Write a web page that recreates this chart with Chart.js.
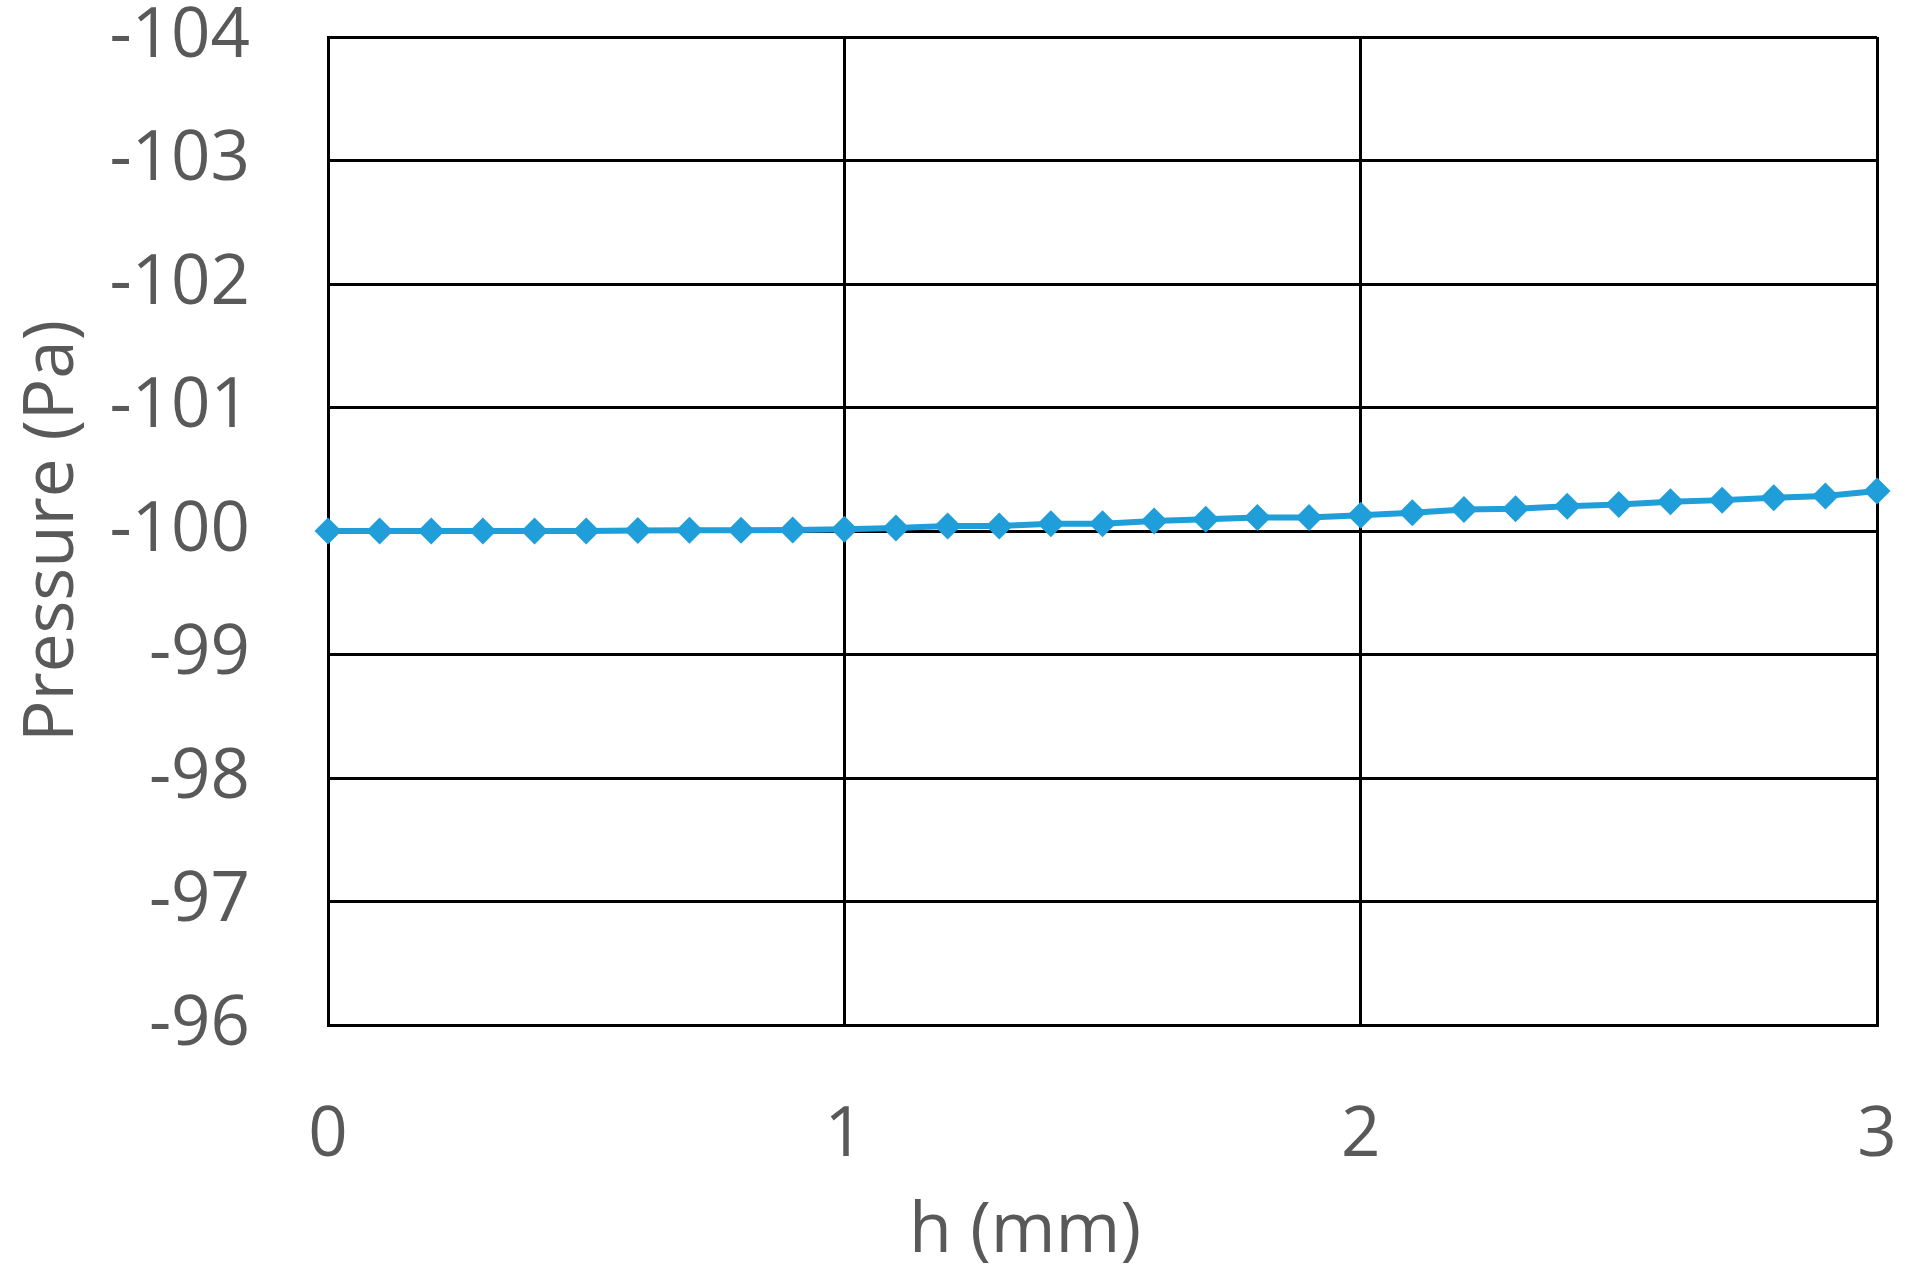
<!DOCTYPE html>
<html>
<head>
<meta charset="utf-8">
<script src="https://cdn.jsdelivr.net/npm/chart.js@4"></script>
<style>
html,body{margin:0;padding:0;background:#fff;}
#wrap{width:1909px;height:1269px;}
</style>
</head>
<body>
<div id="wrap"><canvas id="c" width="1909" height="1269"></canvas></div>
<script>
const hValues = [0,0.1,0.2,0.3,0.4,0.5,0.6,0.7,0.8,0.9,1.0,1.1,1.2,1.3,1.4,1.5,1.6,1.7,1.8,1.9,2.0,2.1,2.2,2.3,2.4,2.5,2.6,2.7,2.8,2.9,3.0];
const pressure = [-100.00,-100.00,-100.00,-100.00,-100.00,-100.00,-100.005,-100.007,-100.007,-100.008,-100.015,-100.025,-100.04,-100.04,-100.058,-100.058,-100.08,-100.095,-100.11,-100.11,-100.127,-100.148,-100.175,-100.18,-100.2,-100.215,-100.237,-100.25,-100.27,-100.284,-100.324];
const xTitle = 'h (mm)';
const yTitle = 'Pressure (Pa)';

const FONT = "'Open Sans', 'Noto Sans', sans-serif";
const TXT = '#595959';

const xTitlePlugin = {
  id: 'xTitlePlugin',
  afterDraw(chart) {
    const ctx = chart.ctx, a = chart.chartArea;
    ctx.save();
    ctx.font = "70px " + FONT;
    ctx.fillStyle = TXT;
    ctx.textAlign = 'center';
    ctx.textBaseline = 'middle';
    ctx.fillText(xTitle, a.left + (a.right - a.left) * 0.45, 1232);
    ctx.restore();
  }
};

new Chart(document.getElementById('c'), {
  type: 'line',
  data: {
    datasets: [{
      data: hValues.map((h, i) => ({x: h, y: pressure[i]})),
      borderColor: '#1F9EDA',
      backgroundColor: '#1F9EDA',
      borderWidth: 6,
      pointStyle: 'rectRot',
      pointRadius: 13.5,
      pointBorderWidth: 0,
      fill: false,
      tension: 0,
      clip: false
    }]
  },
  options: {
    responsive: false,
    animation: false,
    layout: {autoPadding: false, padding: {top: 37, right: 32, left: 0, bottom: 0}},
    plugins: {legend: {display: false}, tooltip: {enabled: false}},
    scales: {
      x: {
        type: 'linear', min: 0, max: 3,
        ticks: {stepSize: 1, color: TXT, font: {family: FONT, size: 69}, padding: 70, maxRotation: 0},
        grid: {color: '#000', lineWidth: 3, drawTicks: false},
        border: {color: '#000', width: 3},
        afterFit(s) { s.height = 244; s.paddingLeft = 0; s.paddingRight = 0; }
      },
      y: {
        type: 'linear', min: -104, max: -96, reverse: true,
        ticks: {stepSize: 1, color: TXT, font: {family: FONT, size: 69}, padding: 78},
        grid: {color: '#000', lineWidth: 3, drawTicks: false},
        border: {color: '#000', width: 3},
        title: {display: true, text: yTitle, color: TXT, font: {family: FONT, size: 69}, padding: {top: 12, bottom: 0}},
        afterFit(s) { s.width = 328; s.paddingTop = 0; s.paddingBottom = 0; }
      }
    }
  },
  plugins: [xTitlePlugin]
});
</script>
</body>
</html>
